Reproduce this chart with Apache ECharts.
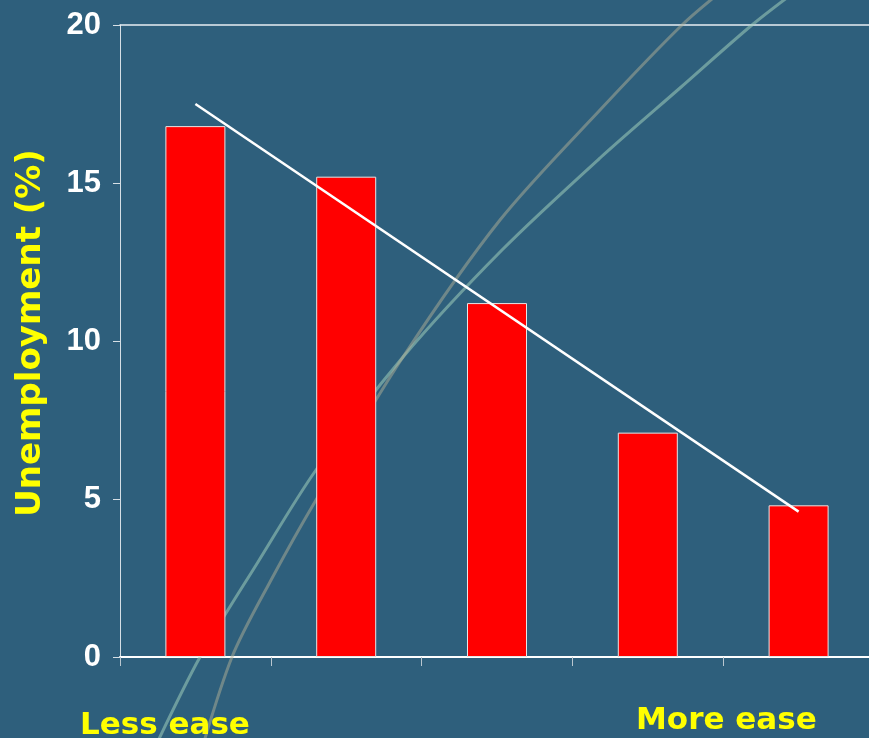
<!DOCTYPE html>
<html>
<head>
<meta charset="utf-8">
<script src="https://cdn.jsdelivr.net/npm/echarts@6/dist/echarts.min.js"></script>
<style>
html,body{margin:0;padding:0;background:#2e5f7c;overflow:hidden;}
#c{width:880px;height:738px;}
</style>
</head>
<body>
<div id="c"></div>
<script>
// ---- data ----
var categories = ['1', '2', '3', '4', '5'];
var unemployment = [16.8, 15.2, 11.2, 7.1, 4.8];
var trend = [17.5, null, null, null, 4.6];
var yTicks = [0, 5, 10, 15, 20];
var yAxisName = 'Unemployment (%)';
var endLabels = ['Less ease', 'More ease'];

var chart = echarts.init(document.getElementById('c'), null, {renderer: 'canvas'});

// decorative background arcs (template ornament, not data)
var curveA = [[148,762],[200,657],[258,562],[316,470],[403,357],[502,250],[600,158],[680,88],[752,25],[800,-12]];
var curveB = [[198,762],[232,657],[270,582],[316,500],[403,357],[500,220],[600,110],[682,25],[728,-14]];

var option = {
  backgroundColor: '#2e5f7c',
  animation: false,
  grid: {left: 120, top: 25, width: 754, height: 632, containLabel: false},
  xAxis: [{
    type: 'category',
    data: categories,
    boundaryGap: true,
    axisLine: {show: true, lineStyle: {color: '#ffffff', width: 2}},
    axisTick: {show: true, length: 9, lineStyle: {color: '#b9c6cf', width: 1}},
    axisLabel: {show: false},
    splitLine: {show: false}
  }, {
    type: 'category',
    data: categories,
    position: 'top',
    axisLine: {show: true, lineStyle: {color: '#e8eef2', width: 1.5}},
    axisTick: {show: false},
    axisLabel: {show: false}
  }],
  yAxis: {
    type: 'value',
    min: yTicks[0],
    max: yTicks[yTicks.length - 1],
    interval: 5,
    axisLine: {show: true, lineStyle: {color: '#d6dfe5', width: 1}},
    axisTick: {show: true, length: 7, lineStyle: {color: '#d6dfe5', width: 1}},
    splitLine: {show: false},
    axisLabel: {
      color: '#ffffff', fontSize: 31, fontWeight: 'bold',
      fontFamily: 'Liberation Sans', margin: 19
    }
  },
  graphic: [
    {type: 'polyline', z: 1, silent: true, shape: {points: curveA, smooth: 0.3},
     style: {stroke: 'rgba(160,205,185,0.55)', lineWidth: 3, fill: null}},
    {type: 'polyline', z: 1, silent: true, shape: {points: curveB, smooth: 0.3},
     style: {stroke: 'rgba(175,175,150,0.5)', lineWidth: 3, fill: null}},
    {type: 'text', z: 10, x: 31, y: 333, rotation: Math.PI / 2,
     style: {text: yAxisName, fill: '#ffff00', font: 'bold 34px "DejaVu Sans"', textAlign: 'center', textVerticalAlign: 'middle'}},
    {type: 'text', z: 10, x: 80, y: 726,
     style: {text: endLabels[0], fill: '#ffff00', font: 'bold 31px "DejaVu Sans"', textAlign: 'left', textVerticalAlign: 'middle'}},
    {type: 'text', z: 10, x: 636, y: 721,
     style: {text: endLabels[1], fill: '#ffff00', font: 'bold 31px "DejaVu Sans"', textAlign: 'left', textVerticalAlign: 'middle'}}
  ],
  series: [{
    type: 'bar',
    data: unemployment,
    barWidth: 60,
    z: 2,
    itemStyle: {color: '#ff0000', borderColor: '#e6e6e6', borderWidth: 1}
  }, {
    type: 'line',
    data: trend,
    connectNulls: true,
    symbol: 'none',
    z: 5,
    lineStyle: {color: '#ffffff', width: 2.5}
  }]
};
chart.setOption(option);
</script>
</body>
</html>
